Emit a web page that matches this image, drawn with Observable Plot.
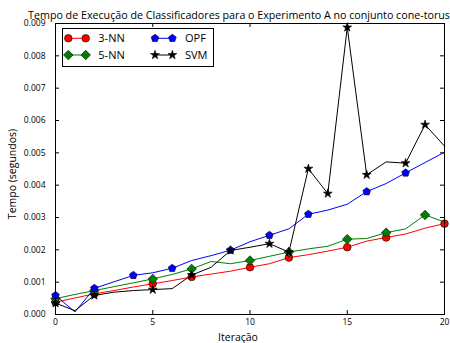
<!DOCTYPE html>
<html><head><meta charset="utf-8">
<script src="https://cdn.jsdelivr.net/npm/d3@7"></script>
<script src="https://cdn.jsdelivr.net/npm/@observablehq/plot@0.6"></script>
<style>
body{margin:0;background:#fff;font-family:"Open Sans",sans-serif}
#wrap{position:relative;width:450px;height:343px;overflow:hidden}
#legend{position:absolute;left:62px;top:28px}
</style></head><body><div id="wrap"></div>
<script>
const title = "Tempo de Execução de Classificadores para o Experimento A no conjunto cone-torus";
const xLabel = "Iteração";
const yLabel = "Tempo (segundos)";
const seriesNames = ["3-NN", "5-NN", "OPF", "SVM"];
const iterations = [0,1,2,3,4,5,6,7,8,9,10,11,12,13,14,15,16,17,18,19,20];
const knn3 = [0.00038,0.00051,0.00064,0.00074,0.00085,0.00095,0.00105,0.00116,0.00125,0.00134,0.00146,0.00157,0.00176,0.00185,0.00196,0.00208,0.00227,0.00238,0.00249,0.00267,0.00281];
const knn5 = [0.00049,0.00062,0.00074,0.00086,0.00098,0.00110,0.00124,0.00141,0.00164,0.00157,0.00167,0.00180,0.00193,0.00203,0.00211,0.00233,0.00235,0.00253,0.00265,0.00308,0.00286];
const opf = [0.00059,0.00008,0.00081,0.00101,0.00121,0.00129,0.00143,0.00167,0.00182,0.00199,0.00225,0.00245,0.00265,0.00310,0.00323,0.00341,0.00380,0.00405,0.00438,0.00470,0.00502];
const svm = [0.00035,0.00012,0.00059,0.00069,0.00074,0.00077,0.00080,0.00122,0.00146,0.00198,0.00208,0.00219,0.00193,0.00451,0.00374,0.00888,0.00432,0.00472,0.00468,0.00587,0.00521];
const markers3 = [0,2,5,7,10,12,15,17,20];
const markers5 = [0,2,5,7,10,12,15,17,19];
const markersOPF = [0,2,4,6,9,11,13,16,18];
const markersSVM = [0,2,5,7,9,11,12,13,14,15,16,18,19];
const xTicks = [0,5,10,15,20];
const yTicks = [0,0.001,0.002,0.003,0.004,0.005,0.006,0.007,0.008,0.009];

const pentagon = {draw(ctx, size){
  const r = Math.sqrt(size/2.3776);
  for (let i=0;i<5;i++){const a=-Math.PI/2+i*2*Math.PI/5;const x=r*Math.cos(a),y=r*Math.sin(a); if(i) ctx.lineTo(x,y); else ctx.moveTo(x,y);}
  ctx.closePath();
}};

const styles = [
  {values: knn3, marks: markers3, color: "#ff0000", symbol: "circle", r: 3.8, d3sym: d3.symbolCircle},
  {values: knn5, marks: markers5, color: "#008000", symbol: "diamond2", r: 4.3, d3sym: d3.symbolDiamond2},
  {values: opf, marks: markersOPF, color: "#0000ff", symbol: pentagon, r: 3.5, d3sym: pentagon},
  {values: svm, marks: markersSVM, color: "#000000", symbol: "star", r: 2.8, d3sym: d3.symbolStar}
];

const W = 450, H = 343, mL = 55, mR = 6, mT = 23, mB = 29;
const fw = W - mL - mR, fh = H - mT - mB;

const seriesMarks = [];
styles.forEach((s, k) => {
  const rows = iterations.map((it, i) => ({it, v: s.values[i]}));
  const mrows = rows.filter(d => s.marks.includes(d.it));
  seriesMarks.push(Plot.line(rows, {x: "it", y: "v", stroke: s.color, strokeWidth: 1}));
  seriesMarks.push(Plot.dot(mrows, {x: "it", y: "v", symbol: s.symbol, r: s.r, fill: s.color, stroke: "black", strokeWidth: 0.6}));
});

const chart = Plot.plot({
  width: W, height: H,
  marginLeft: mL, marginRight: mR, marginTop: mT, marginBottom: mB,
  style: {fontFamily: "Open Sans", fontSize: "8.5px", color: "black", background: "white", overflow: "visible"},
  x: {domain: [0, 20]},
  y: {domain: [0, 0.009]},
  marks: [
    Plot.axisX(xTicks, {tickSize: 0, tickPadding: 4, tickFormat: d3.format("d"), label: null}),
    Plot.axisY(yTicks, {tickSize: 0, tickPadding: 10, tickFormat: d3.format(".3f"), label: null}),
    ...seriesMarks,
    Plot.tickX(xTicks, {x: d => d, insetTop: fh - 4, stroke: "black"}),
    Plot.tickX(xTicks, {x: d => d, insetBottom: fh - 4, stroke: "black"}),
    Plot.tickY(yTicks, {y: d => d, insetRight: fw - 4, stroke: "black"}),
    Plot.tickY(yTicks, {y: d => d, insetLeft: fw - 4, stroke: "black"}),
    Plot.frame({stroke: "black"}),
    Plot.text([title], {frameAnchor: "top", dy: -8, dx: -11, lineAnchor: "middle", textAnchor: "middle", fontSize: 10.7, fill: "black"}),
    Plot.text([xLabel], {frameAnchor: "bottom", dy: 23, dx: -12, lineAnchor: "middle", textAnchor: "middle", fontSize: 10.5, fill: "black"}),
    Plot.text([yLabel], {frameAnchor: "left", dx: -43, dy: 5, rotate: -90, lineAnchor: "middle", textAnchor: "middle", fontSize: 10.5, fill: "black"})
  ]
});
const wrap = document.getElementById("wrap");
wrap.appendChild(chart);

// legend
const lg = d3.select(wrap).append("svg").attr("id", "legend").attr("width", 153).attr("height", 40);
lg.append("rect").attr("x", 0.5).attr("y", 0.5).attr("width", 151).attr("height", 38).attr("fill", "white").attr("stroke", "black").attr("stroke-width", 1);
const pos = [[6.3, 10.3], [6.3, 27], [93, 10.3], [93, 27]];
styles.forEach((s, k) => {
  const [x0, y0] = pos[k];
  const g = lg.append("g");
  g.append("line").attr("x1", x0).attr("x2", x0 + 17.4).attr("y1", y0).attr("y2", y0).attr("stroke", s.color).attr("stroke-width", 1);
  const size = Math.PI * s.r * s.r;
  [x0, x0 + 17.4].forEach(x => g.append("path").attr("d", d3.symbol().type(s.d3sym).size(size)()).attr("transform", `translate(${x},${y0})`).attr("fill", s.color).attr("stroke", "black").attr("stroke-width", 0.6));
  g.append("text").attr("x", x0 + 30).attr("y", y0).attr("dy", "0.35em").attr("font-size", 11).attr("font-family", "Open Sans").text(seriesNames[k]);
});
</script></body></html>
